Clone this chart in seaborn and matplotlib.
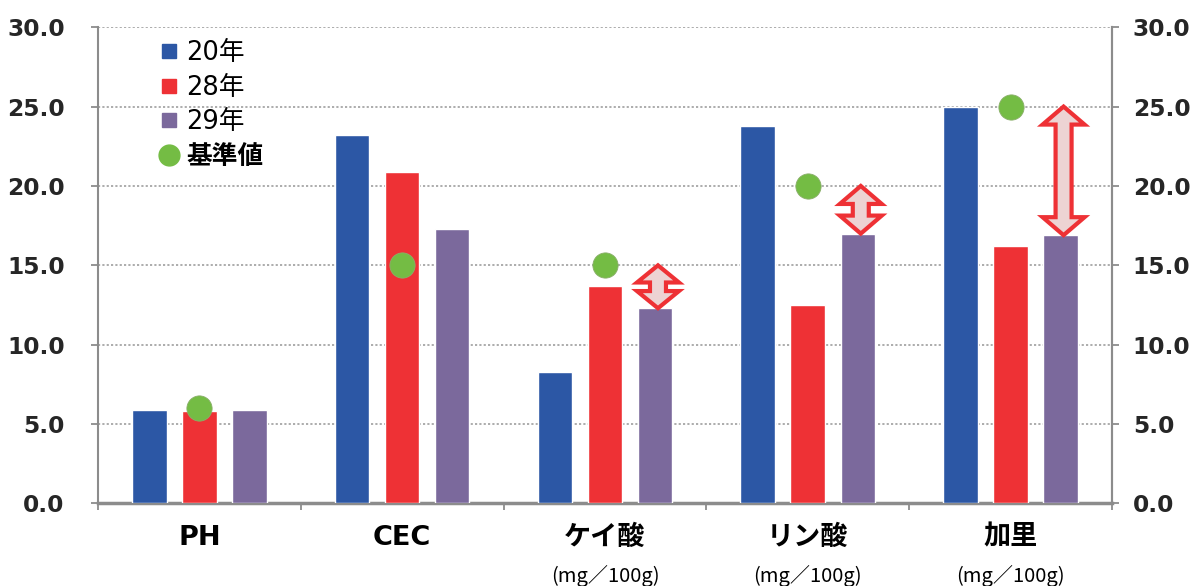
import numpy as np
import pandas as pd
import matplotlib
matplotlib.use("Agg")
import matplotlib.pyplot as plt
from matplotlib.lines import Line2D
from matplotlib.patches import Polygon
import matplotlib.transforms as mtransforms
import seaborn as sns

# ---- data ----
categories = ["PH", "CEC", "ケイ酸", "リン酸", "加里"]
units = ["", "", "(mg／100g)", "(mg／100g)", "(mg／100g)"]
years = ["20年", "28年", "29年"]
vals_20 = [5.9, 23.2, 8.3, 23.8, 25.0]
vals_28 = [5.8, 20.9, 13.7, 12.5, 16.2]
vals_29 = [5.9, 17.3, 12.3, 17.0, 16.9]
standard = [6.0, 15.0, 15.0, 20.0, 25.0]
standard_label = "基準値"
arrow_categories = ["ケイ酸", "リン酸", "加里"]
yticks = [0, 5, 10, 15, 20, 25, 30]

colors = {"20年": "#2C57A5", "28年": "#EE3135", "29年": "#7B699C"}
green = "#74BC44"

sns.set_theme(style="white")
plt.rcParams["font.family"] = ["DejaVu Sans", "Noto Sans CJK JP"]

df = pd.DataFrame({
    "項目": categories * 3,
    "年": [y for y in years for _ in categories],
    "値": vals_20 + vals_28 + vals_29,
})

fig = plt.figure(figsize=(11.99, 5.86), dpi=100)
ax = fig.add_axes([0.0817, 0.1408, 0.8457, 0.8128])

sns.barplot(data=df, x="項目", y="値", hue="年", order=categories,
            hue_order=years, palette=colors, width=0.74, gap=0.31,
            saturation=1, legend=False, ax=ax, zorder=3)

ax.set_xlim(-0.5, len(categories) - 0.5)
ax.set_ylim(0, 30)

# gridlines
for t in yticks[1:]:
    ax.axhline(t, color="#A6A6A6", linestyle=(0, (1.2, 1.2)), linewidth=1.3, zorder=1)

# standard points
sns.scatterplot(x=np.arange(len(categories)), y=standard, s=330, color=green,
                edgecolor="#8AAE6A", linewidth=0.6, ax=ax, zorder=5, legend=False)

# double arrows (29年 -> standard)
px_x = ax.get_position().width * fig.get_figwidth() * fig.dpi / len(categories)
px_y = ax.get_position().height * fig.get_figheight() * fig.dpi / 30.0
hw = 21 / px_x
sw = 8 / px_x
cont29 = ax.containers[2]
for cat in arrow_categories:
    i = categories.index(cat)
    bar = cont29[i]
    xc = bar.get_x() + bar.get_width() / 2 + 3 / px_x
    y0 = vals_29[i]
    y1 = standard[i]
    L = y1 - y0
    hl = min(18 / px_y, L * 0.4)
    pts = [(xc, y1), (xc + hw, y1 - hl), (xc + sw, y1 - hl), (xc + sw, y0 + hl),
           (xc + hw, y0 + hl), (xc, y0), (xc - hw, y0 + hl), (xc - sw, y0 + hl),
           (xc - sw, y1 - hl), (xc - hw, y1 - hl)]
    ax.add_patch(Polygon(pts, closed=True, facecolor="#EDD3D3", edgecolor="#EE3135",
                         linewidth=3.0, joinstyle="miter", zorder=6))

# spines
ax.spines["top"].set_visible(False)
for s in ["left", "right"]:
    ax.spines[s].set_color("#8C8C8C")
    ax.spines[s].set_linewidth(1.5)
ax.spines["bottom"].set_color("#8C8C8C")
ax.spines["bottom"].set_linewidth(2.5)

# y axis (left)
ax.set_yticks(yticks)
ax.set_yticklabels([f"{t:.1f}" for t in yticks], fontsize=16.8, fontweight="bold",
                   family="DejaVu Sans")
ax.tick_params(axis="y", direction="out", length=5, width=1.3, color="#8C8C8C", pad=19, left=True)
ax.set_ylabel("")
ax.set_xlabel("")

# right axis
ax2 = ax.twinx()
ax2.set_ylim(ax.get_ylim())
ax2.set_yticks(yticks)
ax2.set_yticklabels([f"{t:.1f}" for t in yticks], fontsize=16.8, fontweight="bold",
                    family="DejaVu Sans")
ax2.tick_params(axis="y", direction="out", length=5, width=1.3, color="#8C8C8C", pad=10)
for s in ["top", "left", "bottom"]:
    ax2.spines[s].set_visible(False)
ax2.spines["right"].set_color("#8C8C8C")
ax2.spines["right"].set_linewidth(1.5)

# x ticks at boundaries, labels as text
ax.set_xticks(np.arange(len(categories) + 1) - 0.5)
ax.set_xticklabels([])
ax.tick_params(axis="x", direction="out", length=5, width=1.3, color="#8C8C8C", bottom=True)
trans = mtransforms.blended_transform_factory(ax.transData, ax.transAxes)
for i, (c, u) in enumerate(zip(categories, units)):
    ax.text(i, -0.072, c, transform=trans, ha="center", va="center",
            fontsize=19.5, fontweight="bold", color="black",
            family=["DejaVu Sans", "Noto Sans CJK JP"])
    if u:
        ax.text(i, -0.152, u, transform=trans, ha="center", va="center",
                fontsize=14.5, color="black", family=["Noto Sans CJK JP", "DejaVu Sans"])

# legend
handles = [Line2D([], [], marker="s", linestyle="", color=colors[y], markersize=10) for y in years]
handles.append(Line2D([], [], marker="o", linestyle="", color=green, markersize=15))
leg = ax.legend(handles, years + [standard_label], loc="upper left",
                bbox_to_anchor=(0.045, 1.005), frameon=False, fontsize=18.5,
                handlelength=0.8, handletextpad=0.25, labelspacing=0.33,
                borderaxespad=0.2)
for t in leg.get_texts():
    t.set_color("black")
leg.get_texts()[-1].set_fontweight("bold")
leg.set_zorder(10)

fig.savefig("out.png", dpi=100)
